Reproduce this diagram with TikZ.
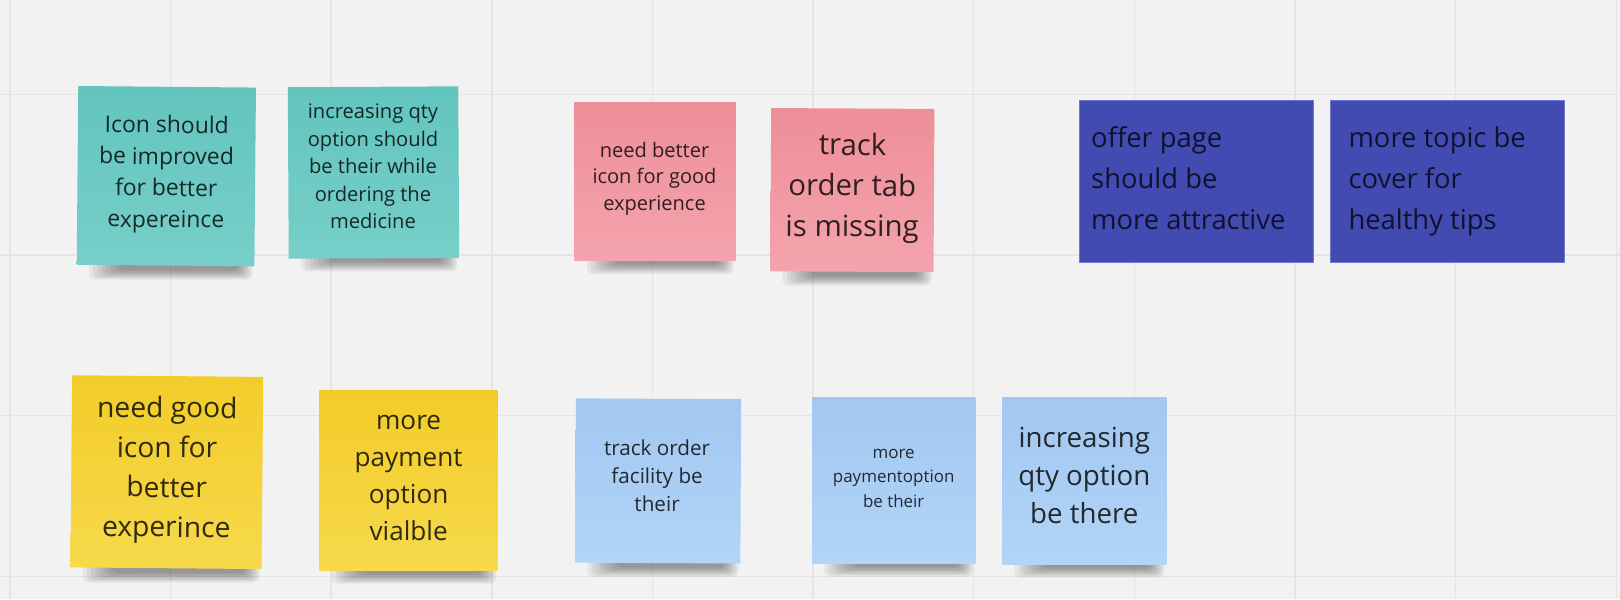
\documentclass[tikz,border=0pt]{standalone}
\usepackage{fontspec}
\setmainfont{Open Sans}
\usetikzlibrary{calc}

\pgfdeclarelayer{grid}
\pgfdeclarelayer{shadow}
\pgfsetlayers{grid,shadow,main}

\definecolor{board}{HTML}{F2F2F2}
\definecolor{gridc}{HTML}{E4E4E4}
\definecolor{tealA}{HTML}{63C4BE}
\definecolor{tealB}{HTML}{77CFC9}
\definecolor{pinkA}{HTML}{EE8E99}
\definecolor{pinkB}{HTML}{F4A4AD}
\definecolor{yellA}{HTML}{F2CC29}
\definecolor{yellB}{HTML}{F7D94B}
\definecolor{skyA}{HTML}{A2C7F1}
\definecolor{skyB}{HTML}{B2D4F7}
\definecolor{navy}{HTML}{414BB2}
\definecolor{navyedge}{HTML}{7077D1}

\tikzset{
  sticky/.style={rectangle, inner sep=0pt, outer sep=0pt},
  tealnote/.style={sticky, top color=tealA, bottom color=tealB},
  pinknote/.style={sticky, top color=pinkA, bottom color=pinkB},
  yellownote/.style={sticky, top color=yellA, bottom color=yellB},
  skynote/.style={sticky, top color=skyA, bottom color=skyB},
  card/.style={rectangle, inner sep=0pt, outer sep=0pt, fill=navy, draw=navyedge, line width=0.8pt},
  notetext/.style={align=center, inner sep=0pt, text=black, text opacity=0.8},
  cardtext/.style={align=left, inner sep=0pt, anchor=west, text=black, text opacity=0.75},
  shadowtone/.style={fill=black, fill opacity=0.055},
  gridline/.style={draw=gridc, line width=1.4pt}
}

% soft shadow under the lower edge of a sticky note
\newcommand\dropshade[1]{%
  \begin{pgfonlayer}{shadow}
    \foreach \k in {0,...,7}{%
      \fill[shadowtone, rounded corners=5pt]
        ($(#1.south west)+({12+4*\k},-10)$) rectangle ($(#1.south east)+({-2-2*\k},{13-1.3*\k})$);
    }
  \end{pgfonlayer}}

\begin{document}
\begin{tikzpicture}[x=1pt,y=-1pt]
\useasboundingbox (0,0) rectangle (1568,580);

% board and its grid
\begin{pgfonlayer}{grid}
  \fill[board] (0,0) rectangle (1568,580);
  \foreach \gx in {9.5,165,320.5,476,631.5,787,942.5,1098,1253.5,1409,1564.5}
    \draw[gridline] (\gx,0) -- (\gx,580);
  \foreach \gy in {91.3,246.8,402.3,557.8}
    \draw[gridline] (0,\gy) -- (1568,\gy);
\end{pgfonlayer}

% top row: teal notes
\node[tealnote, minimum width=172pt, minimum height=173pt, rotate=-0.5] (s1) at (161,170.5) {};
\dropshade{s1}
\node[notetext, font=\fontsize{22.2}{30.5}\selectfont, rotate=-0.5] (s1t) at (161,168.3)
  {\strut Icon should\\be improved\\for better\\expereince\strut};

\node[tealnote, minimum width=165pt, minimum height=166pt, rotate=0.3] (s2) at (361.5,167) {};
\dropshade{s2}
\node[notetext, font=\fontsize{19.5}{26.5}\selectfont] (s2t) at (361,162.8)
  {\strut increasing qty\\option should\\be their while\\ordering the\\medicine\strut};

% top row: pink notes
\node[pinknote, minimum width=156pt, minimum height=153pt] (s3) at (634,175.5) {};
\dropshade{s3}
\node[notetext, font=\fontsize{19.4}{26}\selectfont] (s3t) at (633.5,172.8)
  {\strut need better\\icon for good\\experience\strut};

\node[pinknote, minimum width=158pt, minimum height=158pt, rotate=-0.3] (s4) at (825,184) {};
\dropshade{s4}
\node[notetext, font=\fontsize{28.4}{39.5}\selectfont, rotate=-0.3] (s4t) at (825,181.7)
  {\strut track\\order tab\\is missing\strut};

% top row: navy cards
\node[card, minimum width=226pt, minimum height=157pt] (c1) at (1158,175.5) {};
\node[cardtext, font=\fontsize{26.5}{39.5}\selectfont] (c1t) at (1056,174.7)
  {\strut offer page\\should be\\more attractive\strut};

\node[card, minimum width=226pt, minimum height=157pt] (c2) at (1401,175.5) {};
\node[cardtext, font=\fontsize{26.5}{39.5}\selectfont] (c2t) at (1305,174.7)
  {\strut more topic be\\cover for\\healthy tips\strut};

% bottom row: yellow notes
\node[yellownote, minimum width=185pt, minimum height=186pt, rotate=-0.5] (s5) at (161.5,457) {};
\dropshade{s5}
\node[notetext, font=\fontsize{27.3}{38.5}\selectfont, rotate=-0.5] (s5t) at (161.5,454.3)
  {\strut need good\\icon for\\better\\experince\strut};

\node[yellownote, minimum width=173pt, minimum height=174pt] (s6) at (395.5,465) {};
\dropshade{s6}
\node[notetext, font=\fontsize{25.3}{35.7}\selectfont] (s6t) at (395.5,462.6)
  {\strut more\\payment\\option\\vialble\strut};

% bottom row: light blue notes
\node[skynote, minimum width=160pt, minimum height=159pt, rotate=-0.3] (s7) at (637,465.5) {};
\dropshade{s7}
\node[notetext, font=\fontsize{20}{27.5}\selectfont] (s7t) at (636,462.4)
  {\strut track order\\facility be\\their\strut};

\node[skynote, minimum width=158pt, minimum height=160pt] (s8) at (865,465) {};
\dropshade{s8}
\node[notetext, font=\fontsize{16.4}{24}\selectfont] (s8t) at (865,462.5)
  {\strut more\\paymentoption\\be their\strut};

\node[skynote, minimum width=159pt, minimum height=161pt] (s9) at (1049.5,465.5) {};
\dropshade{s9}
\node[notetext, font=\fontsize{26.8}{36.5}\selectfont] (s9t) at (1049.5,462.5)
  {\strut increasing\\qty option\\be there\strut};

\end{tikzpicture}
\end{document}
